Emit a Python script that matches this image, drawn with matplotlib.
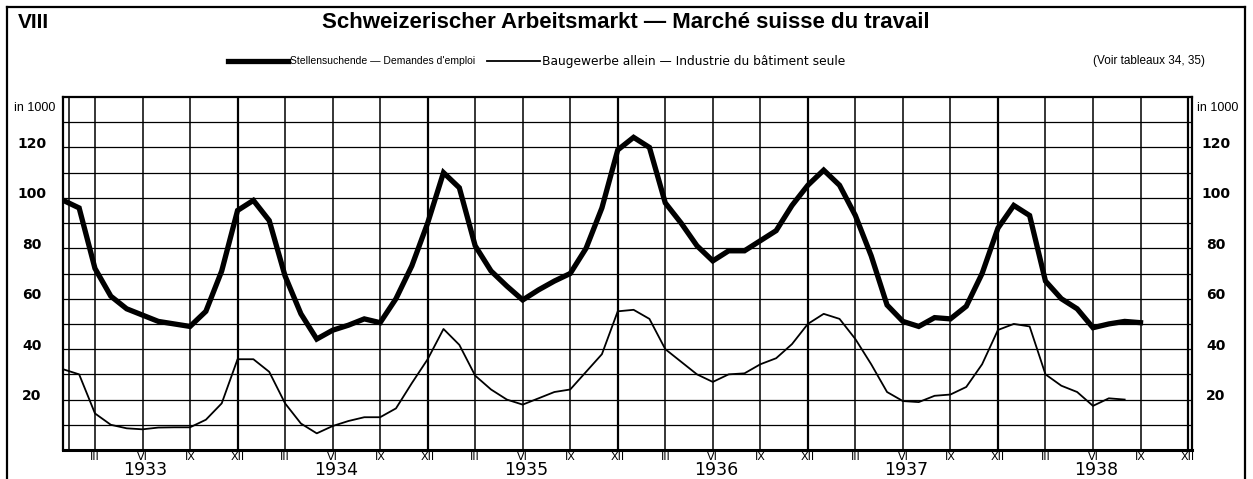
import matplotlib
matplotlib.use("Agg")
import matplotlib.pyplot as plt
from matplotlib.lines import Line2D
import numpy as np

plt.rcParams['font.family'] = ['Liberation Sans', 'DejaVu Sans']

years = [1933, 1934, 1935, 1936, 1937, 1938]
quarter_labels = ["III", "VI", "IX", "XII"]
y_labels = [20, 40, 60, 80, 100, 120]

# Stellensuchende (in 1000), monthly from Jan 1933 to Sep 1938
stellensuchende = [
    99, 96, 72, 61, 56, 53.5, 51, 50, 49, 55, 71, 95,
    99, 91, 69, 54, 44, 47.5, 49.5, 52, 50.5, 60, 73, 90,
    110, 104, 81, 71, 65, 59.5, 63.5, 67, 70, 80, 96, 119,
    124, 120, 98, 90, 81, 75, 79, 79, 83, 87, 97, 105,
    111, 105, 93, 77, 57.5, 51, 49, 52.5, 52, 57, 70, 88,
    97, 93, 67, 60, 56, 48.5, 50, 51, 50.5,
]
# Baugewerbe allein (in 1000), monthly from Jan 1933 to Aug 1938
baugewerbe = [
    32, 30, 14.5, 10, 8.6, 8.2, 8.9, 9, 9, 12, 18.5, 36,
    36, 31, 18.5, 10.5, 6.6, 9.5, 11.5, 13, 13, 16.5, 26.5, 36,
    48, 41.7, 29.5, 24, 20, 18, 20.5, 23, 24, 31, 38, 55,
    55.6, 52, 40, 35, 30, 27, 30, 30.4, 34, 36.4, 42, 50,
    54, 52, 44, 34, 23, 19.4, 19, 21.5, 22, 25, 34, 47.6,
    50, 49, 30, 25.5, 23, 17.5, 20.5, 20,
]

W, H = 1253, 479
fig = plt.figure(figsize=(W / 100, H / 100), dpi=100)
ax = fig.add_axes([63.3 / W, 29 / H, (1192 - 63.3) / W, 353 / H])
ax.set_xlim(0, 71.25)
ax.set_ylim(0, 140)

# grid
for v in range(10, 140, 10):
    ax.axhline(v, color='black', lw=0.9, zorder=1)
quarter_pos = [m for y in range(len(years)) for m in (12 * y + 2, 12 * y + 5, 12 * y + 8, 12 * y + 11)]
for m in quarter_pos:
    ax.axvline(m, color='black', lw=1.6 if m % 12 == 11 else 1.1, zorder=1)
ax.axvline(0.36, color='black', lw=1.1, zorder=1)

ax.plot(np.arange(len(stellensuchende)), stellensuchende, color='black', lw=3.8,
        solid_joinstyle='miter', zorder=3)
ax.plot(np.arange(len(baugewerbe)), baugewerbe, color='black', lw=1.3, zorder=3)

for s in ax.spines.values():
    s.set_linewidth(1.6)
ax.spines['bottom'].set_linewidth(2.2)

ax.set_xticks(quarter_pos)
ax.set_xticklabels(quarter_labels * len(years), fontsize=8, fontfamily='DejaVu Sans')
ax.tick_params(axis='x', length=0, pad=1.5)
ax.set_yticks([])

tx = ax.get_xaxis_transform()
for i, y in enumerate(years):
    ax.text(12 * i + 5.2, -0.058, str(y), transform=tx, ha='center', va='center',
            fontsize=12.5, fontfamily='DejaVu Sans')

ty = ax.get_yaxis_transform()
for v in y_labels:
    ax.text(-0.0277, v + 1.4, str(v), transform=ty, ha='center', va='center',
            fontsize=10, fontweight='bold', fontfamily='DejaVu Sans')
    ax.text(1.0213, v + 1.4, str(v), transform=ty, ha='center', va='center',
            fontsize=10, fontweight='bold', fontfamily='DejaVu Sans')
ax.text(-0.0253, 135.5, "in 1000", transform=ty, ha='center', va='center', fontsize=9)
ax.text(1.0230, 135.5, "in 1000", transform=ty, ha='center', va='center', fontsize=9)

# title block
fig.text(626 / W, 1 - 23 / H, "Schweizerischer Arbeitsmarkt — Marché suisse du travail",
         ha='center', va='center', fontsize=16, fontweight='bold')
fig.text(33 / W, 1 - 22 / H, "VIII", ha='center', va='center', fontsize=15, fontweight='bold')

ly = 1 - 61 / H
fig.add_artist(Line2D([228 / W, 288 / W], [ly, ly], color='black', lw=3.8,
                      transform=fig.transFigure))
fig.text(290 / W, ly, "Stellensuchende — Demandes d'emploi", ha='left', va='center',
         fontsize=7.5)
fig.add_artist(Line2D([487 / W, 540 / W], [ly, ly], color='black', lw=1.3,
                      transform=fig.transFigure))
fig.text(542 / W, ly, "Baugewerbe allein — Industrie du bâtiment seule", ha='left', va='center',
         fontsize=8.8, fontfamily='DejaVu Sans')
fig.text(1205 / W, ly, "(Voir tableaux 34, 35)", ha='right', va='center', fontsize=8.5)

# outer frame
for xs, ys in [([7 / W, 7 / W], [0, 1 - 7 / H]),
               ([7 / W, 1245 / W], [1 - 7 / H, 1 - 7 / H]),
               ([1245 / W, 1245 / W], [0, 1 - 7 / H])]:
    fig.add_artist(Line2D(xs, ys, color='black', lw=1.6, transform=fig.transFigure))

fig.savefig("out.png", dpi=100)
